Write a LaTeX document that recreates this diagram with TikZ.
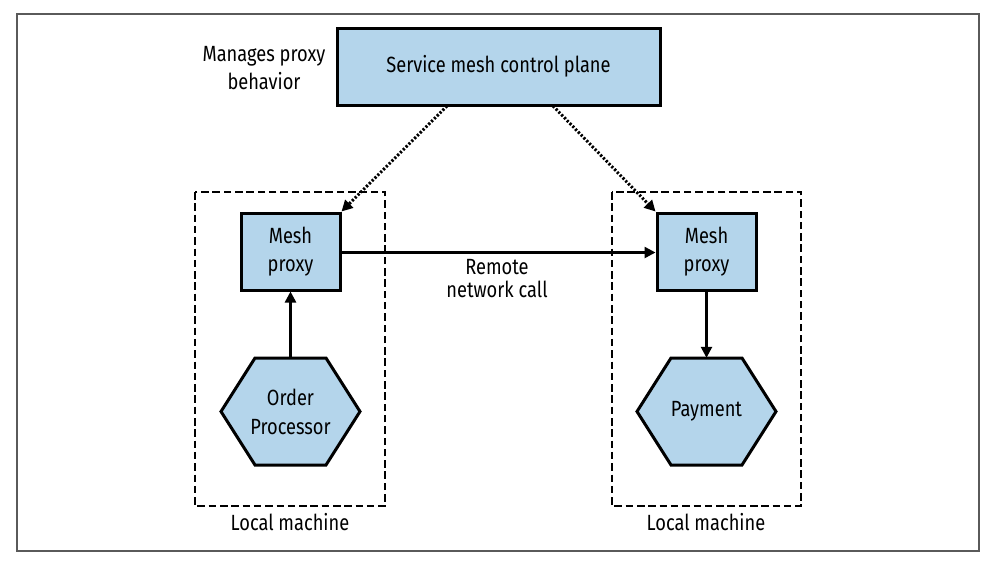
\documentclass[tikz,border=0pt]{standalone}
\usepackage{fontspec}
\setmainfont{Fira Sans}[FakeStretch=0.83]
\usetikzlibrary{arrows.meta}
\definecolor{boxblue}{HTML}{B4D5EB}
\definecolor{framegray}{HTML}{5A5A5A}
\tikzset{
  bluebox/.style={draw=black, line width=3pt, fill=boxblue, inner sep=0pt, align=center, font=\fontsize{22}{28}\selectfont},
  hexfill/.style={draw=black, line width=3pt, fill=boxblue, line join=miter},
  hexlabel/.style={inner sep=0pt, align=center, font=\fontsize{22}{29}\selectfont},
  machine/.style={draw=black, line width=2.8pt, dash pattern=on 7.5pt off 3.8pt},
  lbl/.style={inner sep=0pt, align=center, font=\fontsize{22}{28}\selectfont},
  solidarrow/.style={line width=2.5pt, -{Triangle[length=11pt, width=11pt]}},
  dotarrow/.style={line width=3pt, dash pattern=on 2.2pt off 1.8pt, -{Triangle[length=11pt, width=11pt]}},
}
\begin{document}
\begin{tikzpicture}[x=1pt, y=-1pt]
\useasboundingbox (0,0) rectangle (990,563);
\fill[white] (0,0) rectangle (990,563);
\draw[framegray, line width=2pt] (17,14) rectangle (979,551);

% dashed machine boxes
\draw[machine] (195,192) rectangle (385,506);
\draw[machine] (612,192) rectangle (801,506);

% control plane
\node[bluebox, minimum width=323pt, minimum height=77pt] (cp) at (498.5,66.5) {Service mesh control plane};
\node[lbl] (note) at (264,68) {Manages proxy\\behavior};

% mesh proxies
\node[bluebox, minimum width=99pt, minimum height=77pt] (mpl) at (290.5,251.5) {Mesh\\proxy};
\node[bluebox, minimum width=99pt, minimum height=77pt] (mpr) at (706.5,251.5) {Mesh\\proxy};

% hexagons
\draw[hexfill] (221,411.5) -- (255,358) -- (326,358) -- (360,411.5) -- (326,465) -- (255,465) -- cycle;
\draw[hexfill] (637,411.5) -- (671,358) -- (742,358) -- (776,411.5) -- (742,465) -- (671,465) -- cycle;
\node[hexlabel, minimum width=139pt, minimum height=107pt] (op) at (290.5,411.5) {Order\\Processor};
\node[hexlabel, minimum width=139pt, minimum height=107pt] (pay) at (706.5,411.5) {Payment};

% labels
\node[lbl] (lm1) at (290,522) {Local machine};
\node[lbl] (lm2) at (706,522) {Local machine};
\node[lbl, font=\fontsize{22}{23}\selectfont] (rnc) at (497,279) {Remote\\network call};

% connectors
\draw[solidarrow] (op.north) -- (mpl.south);
\draw[solidarrow] (mpr.south) -- (pay.north);
\draw[solidarrow] (mpl.east |- 0,252.5) -- (mpr.west |- 0,252.5);
\coordinate (cpl) at (447,106);
\coordinate (cpr) at (553,106);
\draw[dotarrow] (cpl) -- (mpl.north east);
\draw[dotarrow] (cpr) -- (mpr.north west);
\end{tikzpicture}
\end{document}
